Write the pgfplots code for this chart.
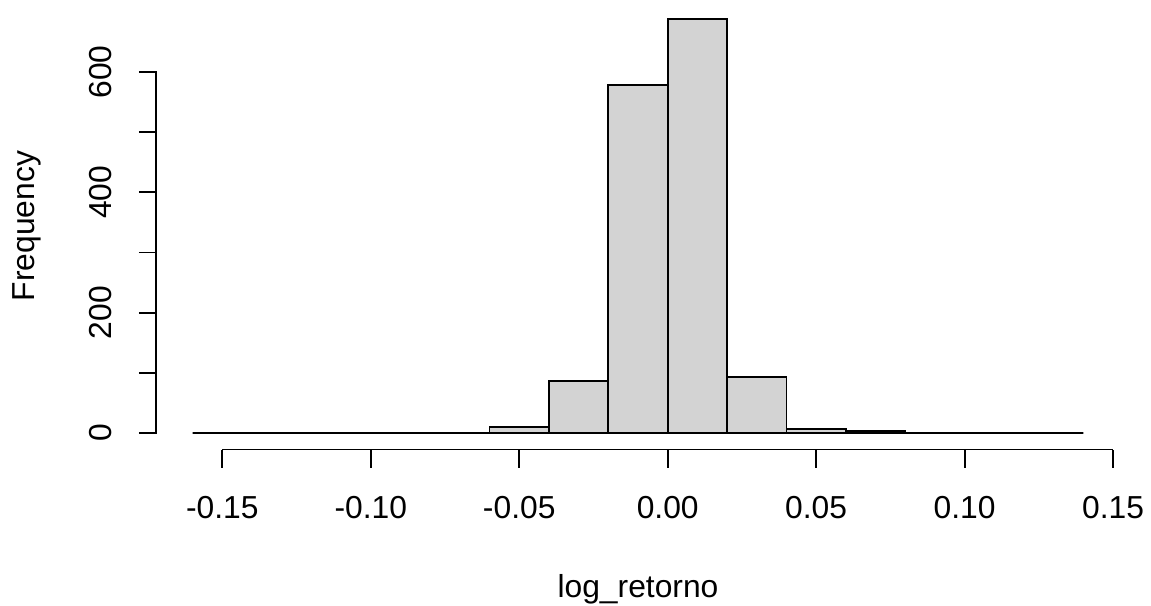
\documentclass[border=0pt]{standalone}
\usepackage{fontspec}
\setmainfont{Liberation Sans}
\usepackage{pgfplots}
\pgfplotsset{compat=1.18}
\definecolor{barfill}{RGB}{211,211,211}
\newcommand{\rfont}{\fontsize{15.9}{19}\selectfont}

\begin{document}
\begin{tikzpicture}
\begin{axis}[
    scale only axis, width=481pt, height=223.5pt,
    xmin=-0.172, xmax=0.152, ymin=-27.5, ymax=715.5,
    axis x line*=bottom, axis y line*=left,
    % R draws the axis lines only from first to last tick
    x axis line style={-, line width=0.9pt, shorten <=32.66pt, shorten >=2.97pt},
    y axis line style={draw=none},
    tick align=outside, major tick length=9pt,
    tick style={black, line width=0.9pt},
    xtick={-0.15,-0.1,-0.05,0,0.05,0.1,0.15},
    xticklabels={-0.15,-0.10,-0.05,0.00,0.05,0.10,0.15},
    ytick={0,100,200,300,400,500,600},
    yticklabels={0,,200,,400,,600},
    xticklabel style={font=\rfont, anchor=base, inner sep=0pt},
    yticklabel style={font=\rfont, rotate=90, anchor=base, inner sep=0pt},
    xticklabel shift=25.5pt, yticklabel shift=13.5pt,
    clip=false,
]
% counts per 0.02 bin, from -0.16 to 0.14
\addplot[ybar interval, fill=barfill, draw=black, line width=0.9pt] coordinates {
    (-0.16,0) (-0.14,0) (-0.12,0) (-0.10,0) (-0.08,0)
    (-0.06,10) (-0.04,86) (-0.02,578) (0.00,688) (0.02,93)
    (0.04,6) (0.06,3) (0.08,0) (0.10,0) (0.12,0) (0.14,0)
};
\end{axis}
% y axis line from 0 to 600
\draw[black, line width=0.9pt] ([xshift=-0.45pt, yshift=8.27pt]current axis.south west) -- ([xshift=-0.45pt, yshift=-34.74pt]current axis.north west);
\node[rotate=90, anchor=base, inner sep=0pt, font=\rfont] at ([xshift=-61pt]current axis.west) {Frequency};
\node[anchor=base, inner sep=0pt, font=\rfont] at ([yshift=-73.75pt]current axis.south) {log\_retorno};
\pgfresetboundingbox
\path ([xshift=-78.5pt,yshift=-77.75pt]current axis.south west) rectangle ([xshift=16pt,yshift=1.25pt]current axis.north east);
\end{tikzpicture}
\end{document}
